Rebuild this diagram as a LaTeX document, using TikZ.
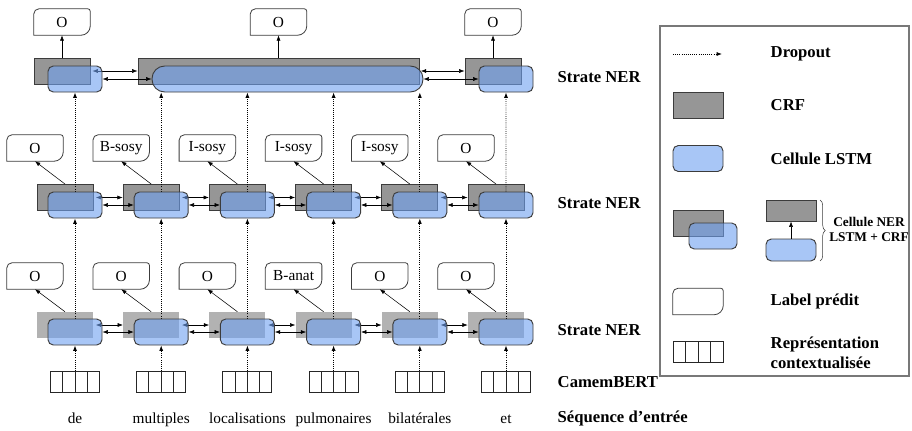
\documentclass[tikz,border=0pt]{standalone}
\usepackage{fontspec}
\setmainfont{Liberation Serif}
\usepackage{tikz}
\usetikzlibrary{arrows.meta,calc,decorations.pathreplacing}
\definecolor{cBlue}{RGB}{110,160,240}
\definecolor{cGray}{RGB}{150,150,150}
\definecolor{cLight}{RGB}{178,178,178}
\definecolor{cEdge}{RGB}{60,60,60}
\definecolor{cFrame}{RGB}{120,120,120}
\pgfdeclarelayer{crf}
\pgfdeclarelayer{links}
\pgfsetlayers{crf,links,main}

\tikzset{
  crf/.style={draw=cEdge, fill=cGray, line width=0.7pt, minimum width=42pt, minimum height=19.5pt, inner sep=0pt},
  crflight/.style={fill=cLight, minimum width=42pt, minimum height=19.5pt, inner sep=0pt},
  lstm/.style={draw=cEdge, fill=cBlue, fill opacity=0.6, line width=0.7pt, rounded corners=4pt, minimum width=40.5pt, minimum height=19.5pt, inner sep=0pt},
  lbl/.style={minimum width=42pt, minimum height=19.5pt, inner sep=0pt, font=\fontsize{11.5}{13}\selectfont},
  emb/.style={draw=black!85, line width=0.7pt, minimum width=36.75pt, minimum height=15.75pt, inner sep=0pt,
    path picture={\foreach \k in {1,2,3} \draw[black!85, line width=0.7pt] ($(path picture bounding box.south west)!\k/4!(path picture bounding box.south east)$) -- ($(path picture bounding box.north west)!\k/4!(path picture bounding box.north east)$);}},
  drop/.style={->, densely dotted, line width=0.6pt},
  word/.style={anchor=base, font=\fontsize{11.5}{13}\selectfont},
  side/.style={anchor=west, font=\fontsize{12.5}{14}\selectfont\bfseries},
}

\newcommand{\predlbl}[4][]{%
  \node[lbl,#1] (#2) at (#3) {#4};
  \draw[cEdge, line width=0.6pt] (#2.south west) -- ([yshift=-4pt]#2.north west) arc[start angle=180,end angle=90,radius=4pt]
    -- ([xshift=-2pt]#2.north east) arc[start angle=90,end angle=0,radius=2pt]
    -- ([yshift=7pt]#2.south east) arc[start angle=0,end angle=-90,radius=7pt] -- cycle;}

\begin{document}
\begin{tikzpicture}[x=0.75pt, y=0.75pt, >={Latex[length=4pt,width=3pt]}, line width=0.6pt]
    \useasboundingbox (0,0) rectangle (912,430);

    \foreach \i/\w/\a/\b in {1/de/O/O, 2/multiples/O/B-sosy, 3/localisations/O/I-sosy, 4/pulmonaires/B-anat/I-sosy, 5/bilatérales/O/I-sosy, 6/et/O/O}{
        \pgfmathsetmacro{\x}{75+86.2*(\i-1)}
        \node[word] (w\i) at (\x,7) {\w};
        \node[emb] (e\i) at (\x,48) {};
        \node[lstm] (ba\i) at (\x,98) {};
        \node[lstm] (bb\i) at (\x,225) {};
        \begin{pgfonlayer}{crf}
            \node[crflight] (ga\i) at (\x-10,105) {};
            \node[crf] (gb\i) at (\x-10,232.5) {};
        \end{pgfonlayer}
        \predlbl{la\i}{\x-40,154}{\a}
        \predlbl{lb\i}{\x-40,282}{\b}
        \draw[->] (ga\i.north) -- (la\i.south);
        \draw[->] (gb\i.north) -- (lb\i.south);
        \begin{pgfonlayer}{links}
            \draw[drop] (e\i.north) -- (ba\i.south);
            \draw[drop] (ba\i.north) -- (bb\i.south);
        \end{pgfonlayer}
    }

    \foreach \i [evaluate=\i as \j using int(\i+1)] in {1,...,5}{
        \begin{pgfonlayer}{links}
            \draw[<->] ([xshift=-5pt]ba\i.east |- ga\j.west) -- (ga\j.west);
            \draw[<->] ([xshift=-5pt]bb\i.east |- gb\j.west) -- (gb\j.west);
        \end{pgfonlayer}
        \draw[<->] (ba\i.east) -- (ba\j.west);
        \draw[<->] (bb\i.east) -- (bb\j.west);
    }

    \begin{pgfonlayer}{crf}
        \node[crf] (gt1) at (62,359) {};
        \node[crf, minimum width=210.75pt] (gtm) at (278.5,359) {};
        \node[crf] (gt6) at (493,359) {};
    \end{pgfonlayer}
    \node[lstm] (bt1) at (75,351) {};
    \node[lstm, minimum width=203.25pt, rounded corners=9.5pt] (btm) at (287.5,351) {};
    \node[lstm] (bt6) at (506,351) {};
    \predlbl{lt1}{62,408}{O}
    \predlbl{ltm}{278.5,408}{O}
    \predlbl{lt6}{493,408}{O}
    \draw[->] (gt1.north) -- (lt1.south);
    \draw[->] (gtm.north) -- (ltm.south);
    \draw[->] (gt6.north) -- (lt6.south);
    \begin{pgfonlayer}{links}
        \draw[drop] (bb1.north) -- (bt1.south);
        \foreach \i in {2,...,5} \draw[drop] (bb\i.north) -- (bb\i.north |- btm.south);
        \draw[drop] (bb6.north) -- (bt6.south);
        \draw[<->] ([xshift=-7.5pt]bt1.east |- gtm.west) -- (gtm.west);
        \draw[<->] ([xshift=-2pt]btm.east |- gt6.west) -- (gt6.west);
    \end{pgfonlayer}
    \draw[<->] (bt1.east) -- (btm.west);
    \draw[<->] (btm.east) -- (bt6.west);

    \node[side] (s3) at (553,353) {Strate NER};
    \node[side] (s2) at (553,227) {Strate NER};
    \node[side] (s1) at (553,100) {Strate NER};
    \node[side] (s0) at (553,48) {CamemBERT};
    \node[side, anchor=base west] (s00) at (553,8) {Séquence d’entrée};

    % legende
    \node[draw=cFrame, line width=0.8pt, minimum width=186.75pt, minimum height=262.5pt, inner sep=0pt] (leg) at (784.5,229) {};
    \coordinate (d0) at (673,376);
    \coordinate (d1) at (722,376);
    \draw[drop] (d0) -- (d1);
    \node[side] (kdrop) at (766,376) {Dropout};
    \node[crf, minimum width=37.5pt] (kcrf) at (698,325) {};
    \node[side] (tcrf) at (766,325) {CRF};
    \node[lstm, minimum width=37.5pt] (klstm) at (698,271.5) {};
    \node[side] (tlstm) at (766,271.5) {Cellule LSTM};
    \node[crf, minimum width=37.5pt] (kg) at (698,207) {};
    \node[lstm, minimum width=36pt] (kb) at (713,194) {};
    \node[crf, minimum width=37.5pt, minimum height=15.75pt] (kg2) at (791,219.5) {};
    \node[lstm, minimum width=37.5pt, minimum height=16.5pt] (kb2) at (791,180) {};
    \draw[->] (kb2.north) -- (kg2.south);
    \draw[cEdge, decorate, decoration={brace, amplitude=4pt}] (820,230) -- (820,169);
    \node[align=center, font=\fontsize{10}{11.25}\selectfont\bfseries] (tner) at (869,200.5) {Cellule NER\\LSTM + CRF};
    \predlbl[minimum width=37.5pt]{klbl}{698,128.5}{}
    \node[side] (tlbl) at (766,128.5) {Label prédit};
    \node[emb, minimum width=37.5pt] (kemb) at (698,78.5) {};
    \node[side, align=left, font=\fontsize{12.5}{15}\selectfont\bfseries] (temb) at (766,77) {Représentation\\contextualisée};
\end{tikzpicture}
\end{document}
